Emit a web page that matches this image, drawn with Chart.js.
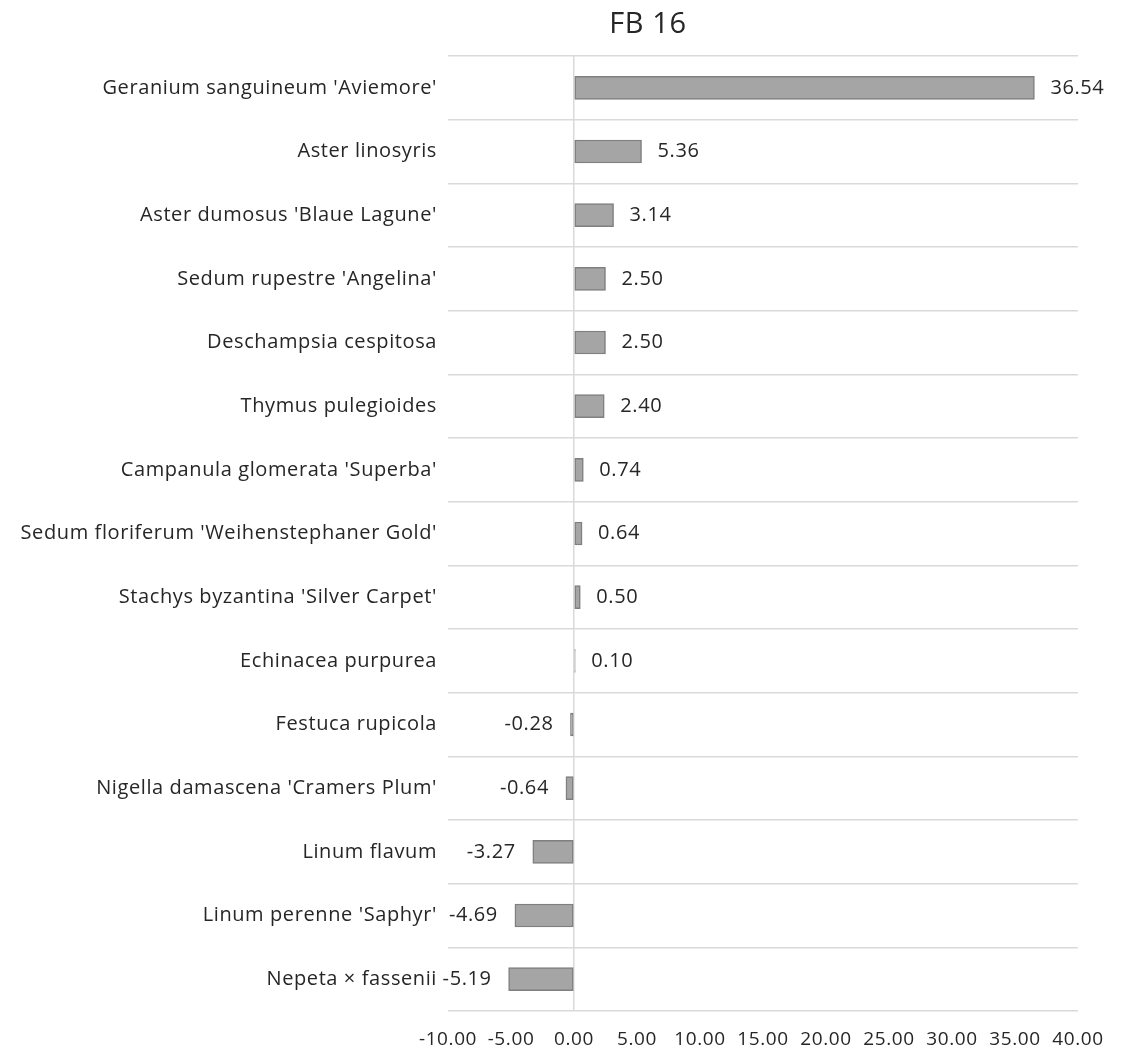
<!DOCTYPE html>
<html>
<head>
<meta charset="utf-8">
<script src="https://cdn.jsdelivr.net/npm/chart.js@4"></script>
<style>
  html, body { margin: 0; padding: 0; background: #fff; }
  #wrap { width: 1126px; height: 1057px; }
</style>
</head>
<body>
<div id="wrap"><canvas id="chart" width="1126" height="1057"></canvas></div>
<script>
// --- Data ---
const chartTitle = "FB 16";
const plants = [
  "Geranium sanguineum 'Aviemore'",
  "Aster linosyris",
  "Aster dumosus 'Blaue Lagune'",
  "Sedum rupestre 'Angelina'",
  "Deschampsia cespitosa",
  "Thymus pulegioides",
  "Campanula glomerata 'Superba'",
  "Sedum floriferum 'Weihenstephaner Gold'",
  "Stachys byzantina 'Silver Carpet'",
  "Echinacea purpurea",
  "Festuca rupicola",
  "Nigella damascena 'Cramers Plum'",
  "Linum flavum",
  "Linum perenne 'Saphyr'",
  "Nepeta \u00d7 fassenii"
];
const values = [36.54, 5.36, 3.14, 2.50, 2.50, 2.40, 0.74, 0.64, 0.50, 0.10, -0.28, -0.64, -3.27, -4.69, -5.19];
const xMin = -10;
const xMax = 40;
const xStep = 5;

const FONT = "'Open Sans', 'Noto Sans', sans-serif";
const TEXT = "#262626";
const SPACING = "0.6px"; // widen text a little, reference font runs wide

// --- Plugins ---

// letter spacing for all canvas text (reset whenever the canvas resizes)
const spacingPlugin = {
  id: "spacing",
  beforeUpdate(chart) { chart.ctx.letterSpacing = SPACING; },
  beforeDraw(chart) { chart.ctx.letterSpacing = SPACING; },
};

// title drawn over the plot area
const titlePlugin = {
  id: "fbTitle",
  afterDraw(chart) {
    const c = chart.ctx;
    c.save();
    c.font = "29px " + FONT;
    c.fillStyle = TEXT;
    c.textAlign = "center";
    c.textBaseline = "middle";
    c.fillText(chartTitle, 648, 25);
    c.restore();
  }
};

// value labels next to each bar
const labelPlugin = {
  id: "barLabels",
  afterDatasetsDraw(chart) {
    const c = chart.ctx;
    const meta = chart.getDatasetMeta(0);
    c.save();
    c.font = "20px " + FONT;
    c.fillStyle = TEXT;
    c.textBaseline = "middle";
    meta.data.forEach((bar, i) => {
      const v = values[i];
      if (v >= 0) {
        c.textAlign = "left";
        c.fillText(v.toFixed(2), bar.x + 16, bar.y);
      } else {
        c.textAlign = "right";
        c.fillText(v.toFixed(2), bar.x - 17, bar.y);
      }
    });
    c.restore();
  }
};

// --- Chart ---
const ctx = document.getElementById("chart");
new Chart(ctx, {
  type: "bar",
  data: {
    labels: plants,
    datasets: [
      {
        data: values,
        backgroundColor: "#A5A5A5",
        borderColor: "#7F7F7F",
        borderWidth: 1.5,
        borderSkipped: false,
        barThickness: 23,
      },
    ],
  },
  options: {
    indexAxis: "y",
    responsive: false,
    animation: false,
    layout: { padding: { top: 56, right: 48, bottom: 0, left: 0 } },
    plugins: {
      legend: { display: false },
      tooltip: { enabled: false },
    },
    scales: {
      x: {
        min: xMin,
        max: xMax,
        border: { display: false },
        grid: {
          drawTicks: false,
          lineWidth: 1.5,
          color: (c) => (c.tick && c.tick.value === 0 ? "#D9D9D9" : "rgba(0,0,0,0)"),
        },
        ticks: {
          stepSize: xStep,
          autoSkip: false,
          maxRotation: 0,
          padding: 17,
          color: TEXT,
          font: { family: FONT, size: 19 },
          callback: (v) => Number(v).toFixed(2),
        },
        afterFit(scale) {
          scale.height = 46;
        },
      },
      y: {
        border: { display: false },
        grid: {
          offset: true,
          drawTicks: false,
          lineWidth: 1.5,
          color: "#D9D9D9",
        },
        ticks: {
          autoSkip: false,
          padding: 11,
          color: TEXT,
          font: { family: FONT, size: 20 },
        },
        afterFit(scale) {
          scale.width = 448;
        },
      },
    },
  },
  plugins: [spacingPlugin, titlePlugin, labelPlugin],
});
</script>
</body>
</html>
